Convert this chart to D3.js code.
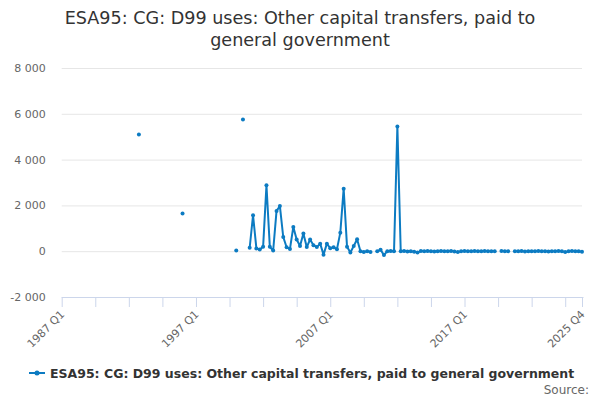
<!DOCTYPE html>
<html lang="en">
<head>
	<meta charset="UTF-8">
	<title>ESA95 CG D99</title>
	<style>
		body { margin: 0; background: #fff; }
		text { font-family: "DejaVu Sans", Verdana, sans-serif; }
	</style>
</head>
<body>
	<svg id="chart" width="600" height="400"></svg>
</body>
<script src="https://unpkg.com/d3@7/dist/d3.min.js"></script>
<script>
	// quarters 1987 Q1 .. 2025 Q4
	var years = d3.range(1987, 2026);
	var quarters = ["Q1", "Q2", "Q3", "Q4"];

	// one row per year, Q1..Q4 (null = no value)
	var values = [
		null, null, null, null,      // 1987
		null, null, null, null,      // 1988
		null, null, null, null,      // 1989
		null, null, null, null,      // 1990
		null, null, null, null,      // 1991
		null, null, null, 5100,      // 1992
		null, null, null, null,      // 1993
		null, null, null, null,      // 1994
		null, null, null, null,      // 1995
		1650, null, null, null,      // 1996
		null, null, null, null,      // 1997
		null, null, null, null,      // 1998
		null, null, null, null,      // 1999
		30, null, 5750, null,        // 2000
		150, 1570, 120, 70,          // 2001
		190, 2880, 190, 30,          // 2002
		1760, 1970, 620, 170,        // 2003
		100, 1060, 510, 230,         // 2004
		770, 180, 510, 260,          // 2005
		180, 330, -150, 330,         // 2006
		130, 170, 90, 810,           // 2007
		2730, 190, -60, 230,         // 2008
		520, 0, -30, 0,              // 2009
		-30, null, 0, 60,            // 2010
		-170, 0, 10, 0,              // 2011
		5450, 0, 10, -10,            // 2012
		0, -20, -60, 10,             // 2013
		0, 10, 0, -10,               // 2014
		0, 10, 0, 0,                 // 2015
		10, -10, -40, 0,             // 2016
		10, 0, 0, 10,                // 2017
		0, 0, 10, 0,                 // 2018
		0, 0, null, 10,              // 2019
		0, 0, null, 0,               // 2020
		0, 10, -10, 0,               // 2021
		0, 0, 10, 0,                 // 2022
		0, -10, 0, 0,                // 2023
		10, 0, -40, 0,               // 2024
		10, 0, 0, -20                // 2025
	];

	var yTicks = [-2000, 0, 2000, 4000, 6000, 8000];
	var xTickLabels = ["1987 Q1", "1997 Q1", "2007 Q1", "2017 Q1", "2025 Q4"];

	var titleLines = ["ESA95: CG: D99 uses: Other capital transfers, paid to", "general government"];
	var seriesName = "ESA95: CG: D99 uses: Other capital transfers, paid to general government";

	var categories = [];
	years.forEach(function(yr) {
		quarters.forEach(function(q) { categories.push(yr + " " + q); });
	});
	var data = categories.map(function(c, i) { return {cat: c, v: values[i]}; });

	var blue = "#0c7bc2";
	var svg = d3.select("#chart");
	// plot box (note: "top" is reserved on window, so use other names)
	var plotL = 61.7, plotR = 582, plotT = 68, plotB = 297;

	var x = d3.scalePoint().domain(categories).range([plotL, plotR]);
	var y = d3.scaleLinear().domain([-2000, 8000]).range([plotB, plotT]);

	// title
	svg.append("text")
		.attr("x", 300).attr("y", 24)
		.attr("text-anchor", "middle")
		.attr("font-size", 17.6).attr("fill", "#333")
		.selectAll("tspan").data(titleLines).join("tspan")
		.attr("x", 300).attr("dy", (d, i) => i ? 22 : 0)
		.text(d => d);

	// y grid + labels
	var yAxis = d3.axisLeft(y).tickValues(yTicks)
		.tickSize(-(plotR - plotL))
		.tickFormat(d => d3.format(",")(d).replace(/,/g, " ").replace("−", "-"));
	var gy = svg.append("g").attr("transform", "translate(" + plotL + ",0)").call(yAxis);
	gy.select(".domain").remove();
	gy.selectAll(".tick line").attr("stroke", "#e6e6e6").attr("stroke-width", 1)
		.filter(d => d === -2000).remove();
	gy.selectAll(".tick text").attr("x", -16).attr("fill", "#666").attr("font-size", 11)
		.attr("font-family", "DejaVu Sans");

	// x axis
	var tickCats = categories.filter((c, i) => i % 10 === 0 || i === categories.length - 1);
	var xAxis = d3.axisBottom(x).tickValues(tickCats).tickSize(10)
		.tickFormat(d => xTickLabels.indexOf(d) >= 0 ? d : "");
	var gx = svg.append("g").attr("transform", "translate(0," + plotB + ")").call(xAxis);
	gx.select(".domain").attr("stroke", "#ccd6eb").attr("d", "M" + plotL + ",0.5H" + (plotR + 1.5));
	gx.selectAll(".tick line").attr("stroke", "#ccd6eb");
	gx.selectAll(".tick text")
		.attr("fill", "#666").attr("font-size", 11).attr("font-family", "DejaVu Sans")
		.attr("text-anchor", "end")
		.attr("y", 0).attr("dy", 0)
		.attr("transform", "translate(3,18) rotate(-45)");

	// series
	var line = d3.line()
		.defined(d => d.v != null)
		.x(d => x(d.cat))
		.y(d => y(d.v));

	svg.append("path").datum(data)
		.attr("fill", "none").attr("stroke", blue).attr("stroke-width", 2)
		.attr("stroke-linejoin", "round")
		.attr("d", line);

	svg.append("g").selectAll("circle")
		.data(data.filter(d => d.v != null)).join("circle")
		.attr("cx", d => x(d.cat)).attr("cy", d => y(d.v))
		.attr("r", 2).attr("fill", blue);

	// legend
	var lg = svg.append("g").attr("transform", "translate(29,373)");
	lg.append("line").attr("x1", 0).attr("x2", 16).attr("stroke", blue).attr("stroke-width", 2);
	lg.append("circle").attr("cx", 8).attr("r", 2.5).attr("fill", blue);
	lg.append("text").attr("x", 21).attr("y", 5)
		.attr("font-size", 12.5).attr("font-weight", "bold").attr("fill", "#333")
		.text(seriesName);

	svg.append("text").attr("x", 589).attr("y", 394)
		.attr("text-anchor", "end").attr("font-size", 12).attr("fill", "#666")
		.text("Source:");
</script>
</html>
